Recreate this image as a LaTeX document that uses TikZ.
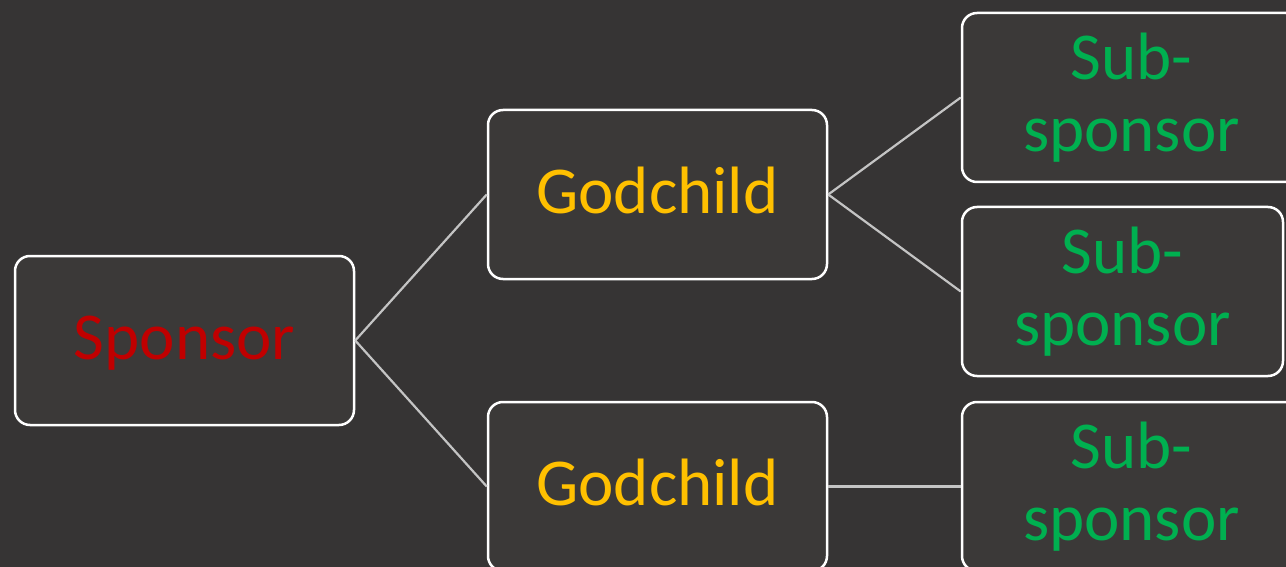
\documentclass[tikz,border=0pt]{standalone}
\usepackage{fontspec}
\setmainfont{Carlito}
\usepackage{tikz}
\usetikzlibrary{positioning,shapes}
\definecolor{bgcol}{HTML}{363434}
\definecolor{boxcol}{HTML}{3B3938}
\definecolor{linkcol}{HTML}{C4C4C4}
\definecolor{sponsorcol}{HTML}{C00000}
\definecolor{godcol}{HTML}{FFC000}
\definecolor{subcol}{HTML}{00B050}
\tikzset{
	member/.style={
		rectangle,
		rounded corners=15pt,
		draw=white,
		line width=2.5pt,
		fill=boxcol,
		minimum width=339pt,
		minimum height=169pt,
		align=center,
		inner sep=0pt,
		font=\fontsize{67}{72}\selectfont
	},
	oneline/.style={text height=50pt, text depth=13pt},
	link/.style={draw=linkcol, line width=2.2pt}
}
\begin{document}
\begin{tikzpicture}[x=1pt, y=-1pt]
			\useasboundingbox (0,0) rectangle (1286,567);
			\fill [bgcol] (0,0) rectangle (1286,567);
			\clip (0,0) rectangle (1286,567);
			\node [member, oneline, text=sponsorcol] (sponsor) at (184.5,340.5) {Sponsor};
			\node [member, oneline, text=godcol] (godchildA) at (657.5,194.5) {Godchild};
			\node [member, oneline, text=godcol] (godchildB) at (657.5,486.5) {Godchild};
			\node [member, text=subcol] (subA) at (1131.5,97.5) {Sub-\\sponsor};
			\node [member, text=subcol, minimum width=321pt] (subB) at (1122.5,291.5) {Sub-\\sponsor};
			\node [member, text=subcol] (subC) at (1131.5,486.5) {Sub-\\sponsor};
			\draw [link] (sponsor.east) -- (godchildA.west);
			\draw [link] (sponsor.east) -- (godchildB.west);
			\draw [link] (godchildA.east) -- (subA.west);
			\draw [link] (godchildA.east) -- (subB.west);
			\draw [link] (godchildB.east) -- (subC.west);
		\end{tikzpicture}
\end{document}
